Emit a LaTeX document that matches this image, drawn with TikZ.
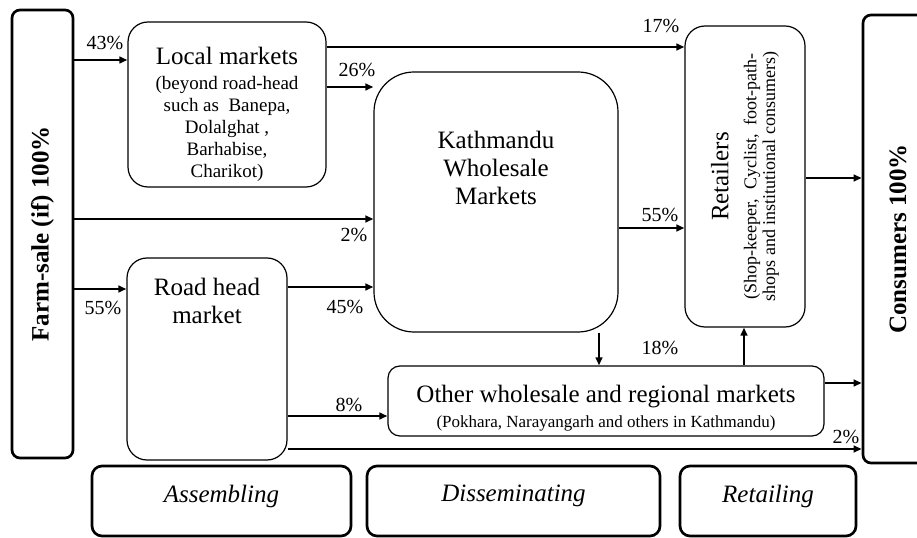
\documentclass[tikz,border=0pt]{standalone}
\usepackage{fontspec}
\setmainfont{Liberation Serif}
\usetikzlibrary{arrows.meta}

\newcommand{\mainfs}{\fontsize{18.75}{21}\selectfont}
\newcommand{\subfs}{\fontsize{14.25}{16.5}\selectfont}
\newcommand{\othfs}{\fontsize{12.75}{15}\selectfont}
\newcommand{\retfs}{\fontsize{13.5}{14}\selectfont}

\tikzset{
  mkt/.style={draw, rounded corners=15pt, line width=0.9pt, inner sep=0pt, align=center, font=\mainfs},
  endbox/.style={draw, rounded corners=6pt, line width=2pt, inner sep=0pt, rotate=90, font=\mainfs\bfseries},
  stagebox/.style={draw, rounded corners=7.5pt, line width=2pt, inner sep=0pt, text depth=11pt, font=\mainfs\itshape},
  flow/.style={line width=1.8pt, -{Triangle[length=6pt,width=5pt]}},
  pct/.style={inner sep=0.75pt, font=\fontsize{15}{18}\selectfont},
}

\begin{document}
\begin{tikzpicture}[x=0.75pt,y=0.75pt,yscale=-1,xscale=1]
\useasboundingbox (0,0) rectangle (917,538);

%Boxes
\node[endbox, minimum width=336pt, minimum height=45.75pt] (farm) at (42.5,234) {Farm-sale (if) 100\%};
\node[endbox, minimum width=336pt, minimum height=52.5pt] (cons) at (898,239) {Consumers 100\%};
\node[mkt, font=\subfs, minimum width=148.5pt, minimum height=123.75pt] (local) at (227,104.5)
  {{\mainfs Local markets}\\[2.25pt] (beyond road-head\\ such as~~Banepa,\\ Dolalghat ,\\ Barhabise,\\ Charikot)\\[-28.5pt]};
\node[mkt, rounded corners=30pt, minimum width=183pt, minimum height=195pt] (kath) at (496,202)
  {Kathmandu\\ Wholesale\\ Markets\\[30pt]};
\node[mkt, minimum width=120pt, minimum height=151.5pt] (road) at (207,359)
  {Road head\\ market\\[67pt]};
\node[mkt, font=\othfs, rounded corners=9pt, minimum width=327pt, minimum height=52.5pt] (other) at (606,401)
  {{\mainfs Other wholesale and regional markets}\\[3.75pt] (Pokhara, Narayangarh and others in Kathmandu)\\[-22.5pt]};
\node[mkt, font=\retfs, rotate=90, minimum width=225.75pt, minimum height=90pt] (retail) at (745,176.5)
  {{\mainfs Retailers}\\[7pt] (Shop-keeper,~ Cyclist,~ foot-path-\\ shops and institutional consumers)};

%Stage boxes
\node[stagebox, minimum width=194.25pt, minimum height=52.5pt] (assemble) at (221.5,501) {Assembling};
\node[stagebox, minimum width=219.75pt, minimum height=52.5pt] (dissem) at (513.5,501) {Disseminating};
\node[stagebox, minimum width=132pt, minimum height=52.5pt] (retailing) at (768,501) {Retailing};

%Straight Lines
\draw[flow] (farm.south |- 0,60) -- (local.west |- 0,60);
\draw[flow] (local.east |- 0,47) -- (retail.north |- 0,47);
\draw[flow] (local.east |- 0,87) -- (kath.west |- 0,87);
\draw[flow] (farm.south |- 0,219) -- (kath.west |- 0,219);
\draw[flow] (farm.south |- 0,289) -- (road.west |- 0,289);
\draw[flow] (road.east |- 0,287) -- (kath.west |- 0,287);
\draw[flow] (kath.east |- 0,228) -- (retail.north |- 0,228);
\draw[flow] (kath.south -| 599,0) -- (other.north -| 599,0);
\draw[flow] (other.north -| 744,0) -- (retail.west -| 744,0);
\draw[flow] (road.east |- 0,416) -- (other.west |- 0,416);
\draw[flow] (other.east |- 0,383) -- (cons.north |- 0,383);
\draw[flow] (retail.south |- 0,178) -- (cons.north |- 0,178);
\draw[flow] (road.east |- 0,449) -- (cons.north |- 0,449);

% Text Node
\node[pct] (p43) at (105,43) {43\%};
% Text Node
\node[pct] (p17) at (661,26) {17\%};
% Text Node
\node[pct] (p26) at (357,70) {26\%};
% Text Node
\node[pct] (p2a) at (354,235) {2\%};
% Text Node
\node[pct] (p55a) at (103,308) {55\%};
% Text Node
\node[pct] (p45) at (345,307) {45\%};
% Text Node
\node[pct] (p55b) at (660,215) {55\%};
% Text Node
\node[pct] (p18) at (660,348) {18\%};
% Text Node
\node[pct] (p8) at (349,405) {8\%};
% Text Node
\node[pct] (p2b) at (846,437) {2\%};

\end{tikzpicture}
\end{document}
